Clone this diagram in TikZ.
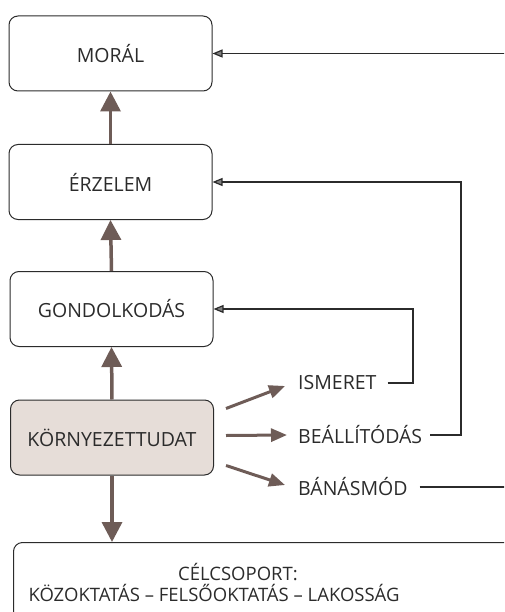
\documentclass[tikz,border=0pt]{standalone}
\usepackage{fontspec}
\setmainfont{Open Sans}
\usetikzlibrary{arrows.meta}
\definecolor{arrbrown}{HTML}{6E5C57}
\definecolor{kfill}{HTML}{E6DDD8}
\definecolor{ink}{HTML}{2B2B2B}
\tikzset{
  box/.style={draw=ink,rounded corners=9pt,minimum width=203pt,minimum height=75pt,inner sep=0pt,line width=1pt,text=ink,font=\fontsize{19.5}{23}\selectfont},
  txt/.style={inner sep=0pt,text=ink,font=\fontsize{19.5}{23}\selectfont},
  lbl/.style={txt,anchor=west},
  up/.style={draw=arrbrown,line width=3.5pt,-{Triangle[length=20pt,width=20pt,fill=arrbrown]}},
  br/.style={draw=arrbrown,line width=3pt,-{Triangle[length=16pt,width=13pt,fill=arrbrown]}},
  fb/.style={draw=ink,line width=1.2pt,-{Triangle[length=10pt,width=8pt,fill=gray]}},
}
\begin{document}
\begin{tikzpicture}[x=1pt,y=-1pt]
\useasboundingbox (0,0) rectangle (504,612);
\clip (0,0) rectangle (504,612);
% left column
\node[box] (moral) at (110.5,53.5) {MORÁL};
\node[box] (erz) at (110.5,182) {ÉRZELEM};
\node[box] (gond) at (111.5,309) {GONDOLKODÁS};
\node[box,fill=kfill] (korny) at (112,437.5) {KÖRNYEZETTUDAT};
\node[box,minimum width=530pt,minimum height=110pt,anchor=north west] (cel) at (13,542) {};
\node[txt,font=\fontsize{18.5}{22}\selectfont] (celhead) at (238,572) {CÉLCSOPORT:};
\node[txt,font=\fontsize{18.5}{22}\selectfont] (celbody) at (214,593) {KÖZOKTATÁS – FELSŐOKTATÁS – LAKOSSÁG};
% outputs
\node[lbl] (ism) at (298,383) {ISMERET};
\node[lbl] (beal) at (298,435) {BEÁLLÍTÓDÁS};
\node[lbl] (bana) at (298,487) {BÁNÁSMÓD};
\draw[up] (erz.north) -- (moral.south);
\draw[up] (gond.north) -- (erz.south);
\draw[up] (korny.north) -- (gond.south);
\draw[up] (korny.south) -- (cel.north -| korny.south);
\draw[br] ([shift={(12,-29)}]korny.east) -- ([shift={(-13,3)}]ism.west);
\draw[br] ([shift={(12,-2)}]korny.east) -- ([xshift=-11pt]beal.west);
\draw[br] ([shift={(12,28)}]korny.east) -- ([shift={(-13,-2)}]bana.west);
% feedback lines
\coordinate (ismx) at (413,383);
\coordinate (bealx) at (461,435);
\coordinate (banax) at (530,487);
\draw[fb] ([xshift=11pt]ism.east) -- (ismx) |- (gond.east);
\draw[fb] ([xshift=8pt]beal.east) -- (bealx) |- (erz.east);
\draw[fb] ([xshift=12pt]bana.east) -- (banax) |- (moral.east);
\end{tikzpicture}
\end{document}
